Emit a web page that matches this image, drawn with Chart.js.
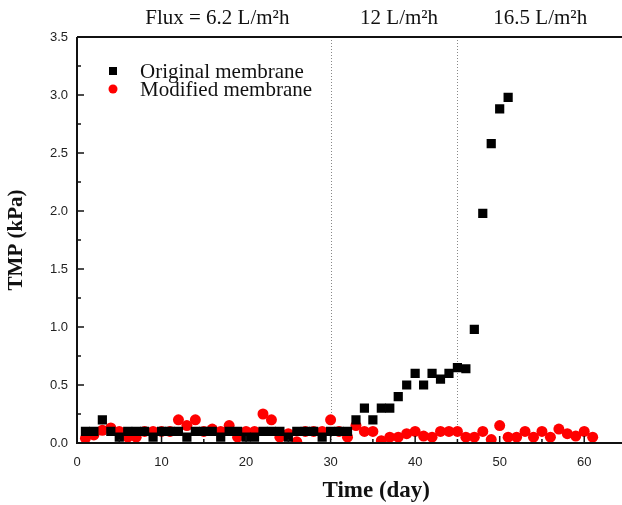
<!DOCTYPE html>
<html lang="en">
<head>
    <meta charset="UTF-8">
    <title>TMP vs Time</title>
    <script src="https://cdn.jsdelivr.net/npm/chart.js"></script>
    <style>
        body { margin: 0; background: #fff; }
        #wrap { width: 622px; height: 505px; position: relative; }
    </style>
</head>
<body>
    <div id="wrap">
        <canvas id="tmp-chart"></canvas>
    </div>

    <script>
        // Original membrane, days 1..51
        var originalDays = [];
        for (var d = 1; d <= 51; d++) originalDays.push(d);
        var originalTMP = [
            0.10, 0.10, 0.20, 0.10, 0.05, 0.10, 0.10, 0.10, 0.05, 0.10,
            0.10, 0.10, 0.05, 0.10, 0.10, 0.10, 0.05, 0.10, 0.10, 0.05,
            0.05, 0.10, 0.10, 0.10, 0.05, 0.10, 0.10, 0.10, 0.05, 0.10,
            0.10, 0.10, 0.20, 0.30, 0.20, 0.30, 0.30, 0.40, 0.50, 0.60,
            0.50, 0.60, 0.55, 0.60, 0.65, 0.64, 0.98, 1.98, 2.58, 2.88,
            2.98
        ];

        // Modified membrane, days 1..61
        var modifiedDays = [];
        for (var m = 1; m <= 61; m++) modifiedDays.push(m);
        var modifiedTMP = [
            0.04, 0.07, 0.11, 0.13, 0.10, 0.05, 0.05, 0.10, 0.10, 0.10,
            0.10, 0.20, 0.15, 0.20, 0.10, 0.12, 0.10, 0.15, 0.05, 0.10,
            0.10, 0.25, 0.20, 0.05, 0.08, 0.01, 0.10, 0.10, 0.10, 0.20,
            0.10, 0.05, 0.15, 0.10, 0.10, 0.02, 0.05, 0.05, 0.08, 0.10,
            0.06, 0.05, 0.10, 0.10, 0.10, 0.05, 0.05, 0.10, 0.03, 0.15,
            0.05, 0.05, 0.10, 0.05, 0.10, 0.05, 0.12, 0.08, 0.06, 0.10,
            0.05
        ];

        // flux change days and labels above the plot
        var fluxChangeDays = [30, 45];
        var fluxLabels = ['Flux = 6.2 L/m\u00b2h', '12 L/m\u00b2h', '16.5 L/m\u00b2h'];
        var fluxLabelDays = [16.6, 38.1, 54.8];

        var xTitle = 'Time (day)';
        var xMax = 63.7;
        var yMax = 3.5;
        var serif = '"Liberation Serif", "Times New Roman", serif';

        function toPoints(xs, ys) {
            return ys.map(function(v, i) { return { x: xs[i], y: v }; });
        }

        // frame, inward ticks, dotted lines, flux labels, legend, x title
        var decorPlugin = {
            id: 'decor',
            beforeDatasetsDraw: function(chart) {
                var ctx = chart.ctx, a = chart.chartArea;
                var xs = chart.scales.x;
                ctx.save();
                ctx.strokeStyle = '#888';
                ctx.lineWidth = 1;
                ctx.setLineDash([1, 2]);
                fluxChangeDays.forEach(function(day) {
                    var px = Math.round(xs.getPixelForValue(day)) + 0.5;
                    ctx.beginPath();
                    ctx.moveTo(px, a.top);
                    ctx.lineTo(px, a.bottom);
                    ctx.stroke();
                });
                ctx.restore();
            },
            afterDraw: function(chart) {
                var ctx = chart.ctx, a = chart.chartArea;
                var xs = chart.scales.x, ys = chart.scales.y;
                ctx.save();
                ctx.strokeStyle = '#111';
                ctx.lineWidth = 2;
                // axes run off the right edge of the picture
                ctx.beginPath();
                ctx.moveTo(a.left, a.top);
                ctx.lineTo(chart.width, a.top);
                ctx.moveTo(a.left, a.top);
                ctx.lineTo(a.left, a.bottom);
                ctx.lineTo(chart.width, a.bottom);
                ctx.stroke();

                ctx.lineWidth = 1.5;
                for (var v = 5; v <= 65; v += 5) {
                    var px = xs.getPixelForValue(v);
                    var len = (v % 10 === 0) ? 7 : 4;
                    ctx.beginPath();
                    ctx.moveTo(px, a.bottom);
                    ctx.lineTo(px, a.bottom - len);
                    ctx.stroke();
                }
                for (var k = 1; k < 14; k++) {
                    var py = ys.getPixelForValue(k * 0.25);
                    var l = (k % 2 === 0) ? 7 : 4;
                    ctx.beginPath();
                    ctx.moveTo(a.left, py);
                    ctx.lineTo(a.left + l, py);
                    ctx.stroke();
                }

                ctx.fillStyle = '#111';
                ctx.font = '21px ' + serif;
                ctx.textAlign = 'center';
                ctx.textBaseline = 'middle';
                fluxLabels.forEach(function(t, i) {
                    ctx.fillText(t, xs.getPixelForValue(fluxLabelDays[i]), a.top - 19);
                });

                // x title sits right of the plot centre in the original
                ctx.font = 'bold 23px ' + serif;
                ctx.fillText(xTitle, xs.getPixelForValue(35.4), a.bottom + 48);

                // legend inside the plot, top left
                ctx.font = '21px ' + serif;
                ctx.textAlign = 'left';
                chart.data.datasets.forEach(function(ds, i) {
                    var cy = a.top + 34 + i * 18;
                    var cx = a.left + 36;
                    ctx.fillStyle = ds.backgroundColor;
                    if (ds.pointStyle === 'rect') {
                        ctx.fillRect(cx - 4, cy - 4, 8, 8);
                    } else {
                        ctx.beginPath();
                        ctx.arc(cx, cy, 4.5, 0, Math.PI * 2);
                        ctx.fill();
                    }
                    ctx.fillStyle = '#111';
                    ctx.fillText(ds.label, a.left + 63, cy + 1);
                });
                ctx.restore();
            }
        };

        var ctx = document.getElementById('tmp-chart').getContext('2d');
        var tmpChart = new Chart(ctx, {
            type: 'scatter',
            data: {
                datasets: [{
                    label: 'Original membrane',
                    data: toPoints(originalDays, originalTMP),
                    pointStyle: 'rect',
                    pointRadius: 6.5,
                    pointHoverRadius: 6.5,
                    backgroundColor: '#000',
                    borderColor: '#000',
                    borderWidth: 0
                }, {
                    label: 'Modified membrane',
                    data: toPoints(modifiedDays, modifiedTMP),
                    pointStyle: 'circle',
                    pointRadius: 5.5,
                    pointHoverRadius: 5.5,
                    backgroundColor: '#ff0000',
                    borderColor: '#ff0000',
                    borderWidth: 0
                }]
            },
            options: {
                responsive: true,
                maintainAspectRatio: false,
                animation: false,
                layout: { padding: { top: 37, right: 0, left: 4, bottom: 2 } },
                plugins: {
                    legend: { display: false },
                    tooltip: { enabled: false }
                },
                scales: {
                    x: {
                        type: 'linear',
                        min: 0,
                        max: xMax,
                        afterBuildTicks: function(scale) {
                            scale.ticks = [0, 10, 20, 30, 40, 50, 60].map(function(v) { return { value: v }; });
                        },
                        afterFit: function(scale) {
                            scale.height = 60;
                            scale.paddingRight = 0;
                            scale.paddingLeft = 0;
                        },
                        grid: { display: false, drawTicks: false },
                        border: { display: false },
                        ticks: {
                            padding: 12,
                            color: '#222',
                            font: { family: '"Liberation Sans", Arial, sans-serif', size: 13 }
                        },
                        title: { display: false }
                    },
                    y: {
                        min: 0,
                        max: yMax,
                        afterBuildTicks: function(scale) {
                            var t = [];
                            for (var i = 0; i <= 7; i++) t.push({ value: i * 0.5 });
                            scale.ticks = t;
                        },
                        afterFit: function(scale) {
                            scale.width = 73;
                        },
                        grid: { display: false, drawTicks: false },
                        border: { display: false },
                        ticks: {
                            padding: 9,
                            color: '#222',
                            font: { family: '"Liberation Sans", Arial, sans-serif', size: 13 },
                            callback: function(v) { return Number(v).toFixed(1); }
                        },
                        title: {
                            display: true,
                            text: 'TMP (kPa)',
                            color: '#111',
                            padding: { top: 0, bottom: 19 },
                            font: { family: serif, size: 21, weight: 'bold' }
                        }
                    }
                }
            },
            plugins: [decorPlugin]
        });
    </script>
</body>
</html>
